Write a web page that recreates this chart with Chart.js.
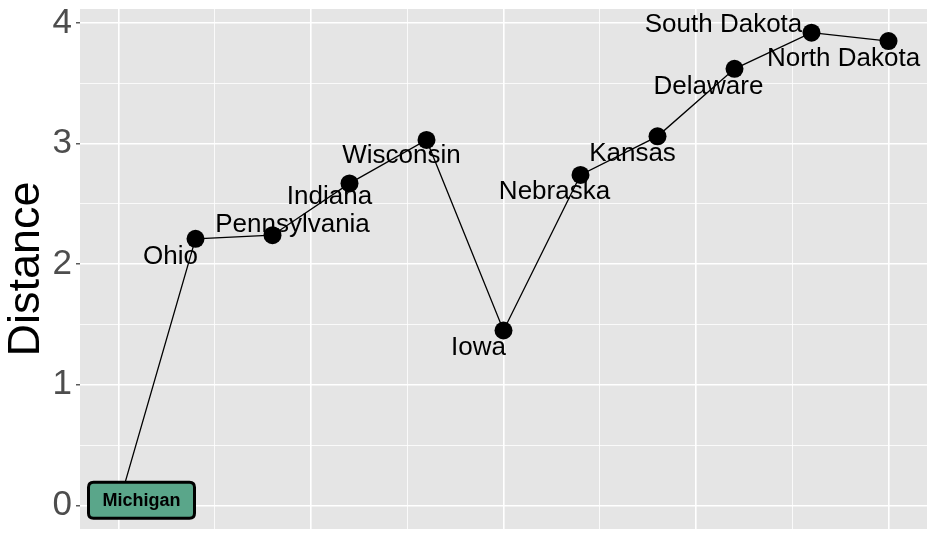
<!DOCTYPE html>
<html>
<head>
<meta charset="utf-8">
<script src="https://cdn.jsdelivr.net/npm/chart.js@4.4.1/dist/chart.umd.min.js"></script>
<style>
  html, body { margin: 0; padding: 0; background: #fff; }
  #wrap { width: 936px; height: 540px; }
</style>
</head>
<body>
<div id="wrap"><canvas id="chart" width="936" height="540"></canvas></div>
<script>
// data
const states = ['Michigan', 'Ohio', 'Pennsylvania', 'Indiana', 'Wisconsin', 'Iowa',
                'Nebraska', 'Kansas', 'Delaware', 'South Dakota', 'North Dakota'];
const distance = [0, 2.21, 2.24, 2.67, 3.03, 1.45, 2.74, 3.06, 3.62, 3.92, 3.85];
const yTicks = [0, 0.5, 1, 1.5, 2, 2.5, 3, 3.5, 4];
const xTicks = [0, 1.25, 2.5, 3.75, 5, 6.25, 7.5, 8.75, 10];

// label placement (repel-like offsets from the point, px)
const labelOffsets = [[23, -5], [-25, 18], [20, -10], [-20, 13], [-25, 16], [-25, 17],
                      [-26, 17], [-25, 17], [-26, 18], [-88, -8], [-45, 18]];

const yLo = Math.min(...distance), yHi = Math.max(...distance);
const yPad = (yHi - yLo) * 0.05;

const panelBg = {
  id: 'panelBg',
  beforeDraw(chart) {
    const a = chart.chartArea, c = chart.ctx;
    c.save();
    c.fillStyle = '#e5e5e5';
    c.fillRect(a.left, a.top, a.right - a.left, a.bottom - a.top);
    c.restore();
  }
};

function roundRect(c, x, y, w, h, r) {
  c.beginPath();
  c.moveTo(x + r, y);
  c.lineTo(x + w - r, y);
  c.quadraticCurveTo(x + w, y, x + w, y + r);
  c.lineTo(x + w, y + h - r);
  c.quadraticCurveTo(x + w, y + h, x + w - r, y + h);
  c.lineTo(x + r, y + h);
  c.quadraticCurveTo(x, y + h, x, y + h - r);
  c.lineTo(x, y + r);
  c.quadraticCurveTo(x, y, x + r, y);
  c.closePath();
}

const stateLabels = {
  id: 'stateLabels',
  afterDatasetsDraw(chart) {
    const c = chart.ctx;
    const pts = chart.getDatasetMeta(0).data;
    c.save();
    c.textAlign = 'center';
    c.textBaseline = 'middle';
    pts.forEach((p, i) => {
      const cx = p.x + labelOffsets[i][0], cy = p.y + labelOffsets[i][1];
      if (i === 0) {
        // highlighted start state
        c.font = 'bold 18px "Liberation Sans", Arial, sans-serif';
        const w = 106, h = 36;
        roundRect(c, cx - w / 2, cy - h / 2, w, h, 5);
        c.fillStyle = '#5aa68a';
        c.fill();
        c.lineWidth = 3;
        c.strokeStyle = '#000';
        c.stroke();
        c.fillStyle = '#000';
        c.fillText(states[i], cx, cy + 1);
      } else {
        c.font = '26px "Liberation Sans", Arial, sans-serif';
        c.fillStyle = '#000';
        c.fillText(states[i], cx, cy);
      }
    });
    c.restore();
  }
};

new Chart(document.getElementById('chart'), {
  type: 'line',
  data: {
    datasets: [{
      data: distance.map((v, i) => ({ x: i, y: v })),
      borderColor: '#000',
      borderWidth: 1.3,
      pointRadius: 9,
      pointHoverRadius: 9,
      pointBackgroundColor: '#000',
      pointBorderWidth: 0,
      tension: 0,
      fill: false
    }]
  },
  options: {
    responsive: false,
    animation: false,
    layout: { padding: { top: 7, right: 8, left: 0, bottom: 0 } },
    plugins: { legend: { display: false }, tooltip: { enabled: false } },
    scales: {
      x: {
        type: 'linear',
        min: -0.5,
        max: 10.5,
        afterBuildTicks: s => { s.ticks = xTicks.map(v => ({ value: v })); },
        afterFit: s => { s.height = 11; s.paddingLeft = 0; s.paddingRight = 0; },
        border: { display: false },
        ticks: { display: false },
        grid: {
          drawTicks: false,
          color: '#fff',
          lineWidth: ctx => (ctx.tick && ctx.tick.value % 2.5 === 0) ? 1.6 : 0.8
        }
      },
      y: {
        min: yLo - yPad,
        max: yHi + yPad,
        afterBuildTicks: s => { s.ticks = yTicks.map(v => ({ value: v })); },
        afterFit: s => { s.width = 80; s.paddingTop = 0; s.paddingBottom = 0; },
        border: { display: false },
        title: {
          display: true,
          text: 'Distance',
          color: '#000',
          font: { size: 45, family: '"Liberation Sans", Arial, sans-serif', lineHeight: 1.2 },
          padding: { top: 0, bottom: 0 }
        },
        ticks: {
          color: '#4d4d4d',
          padding: 4,
          font: { size: 35, family: '"Liberation Sans", Arial, sans-serif' },
          callback: v => Number.isInteger(v) ? String(v) : ''
        },
        grid: {
          color: '#fff',
          lineWidth: ctx => (ctx.tick && Number.isInteger(ctx.tick.value)) ? 1.6 : 0.8,
          tickLength: 4,
          tickWidth: 1.2,
          tickColor: ctx => (ctx.tick && Number.isInteger(ctx.tick.value)) ? '#333' : 'rgba(0,0,0,0)'
        }
      }
    }
  },
  plugins: [panelBg, stateLabels]
});
</script>
</body>
</html>
